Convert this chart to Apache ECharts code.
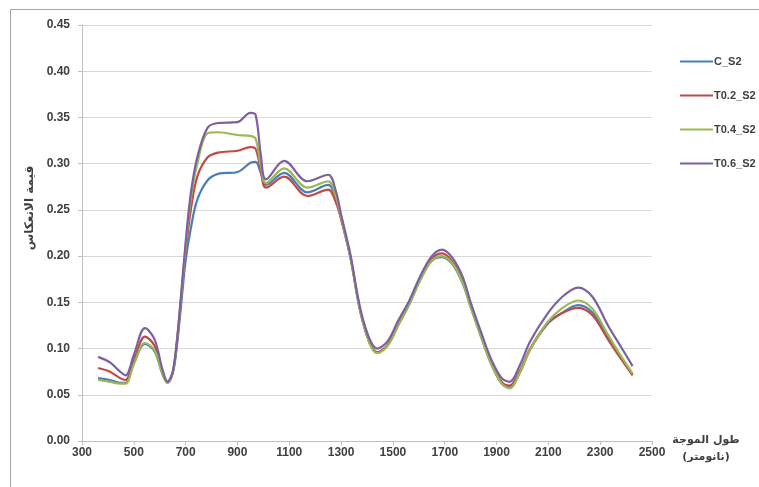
<!DOCTYPE html>
<html>
<head>
<meta charset="utf-8">
<script src="https://cdn.jsdelivr.net/npm/echarts@6/dist/echarts.min.js"></script>
<style>html,body{margin:0;padding:0;background:#fff}#c{width:759px;height:487px}</style>
</head>
<body>
<div id="c"></div>
<script>
var wavelengths = [362, 408, 447, 468, 500, 543, 580, 610, 630, 650, 665, 680, 700, 720, 745, 785, 825, 900, 950, 970, 990, 1010, 1080, 1170, 1250, 1280, 1300, 1335, 1385, 1440, 1480, 1520, 1560, 1605, 1650, 1690, 1730, 1770, 1800, 1840, 1880, 1920, 1950, 1990, 2030, 2095, 2150, 2215, 2270, 2330, 2380, 2425];
var seriesNames = ['C_S2', 'T0.2_S2', 'T0.4_S2', 'T0.6_S2'];
var C_S2 = [0.068, 0.066, 0.063, 0.063, 0.084, 0.105, 0.097, 0.073, 0.063, 0.073, 0.100, 0.140, 0.195, 0.230, 0.261, 0.282, 0.289, 0.291, 0.301, 0.302, 0.290, 0.277, 0.290, 0.269, 0.277, 0.262, 0.241, 0.200, 0.128, 0.096, 0.104, 0.125, 0.146, 0.174, 0.195, 0.199, 0.191, 0.170, 0.145, 0.113, 0.083, 0.062, 0.058, 0.074, 0.099, 0.126, 0.138, 0.147, 0.139, 0.112, 0.090, 0.072];
var T02_S2 = [0.079, 0.075, 0.068, 0.066, 0.087, 0.113, 0.103, 0.075, 0.064, 0.074, 0.103, 0.147, 0.205, 0.250, 0.286, 0.307, 0.312, 0.314, 0.318, 0.316, 0.293, 0.274, 0.286, 0.265, 0.272, 0.258, 0.240, 0.200, 0.128, 0.096, 0.104, 0.126, 0.147, 0.175, 0.197, 0.203, 0.194, 0.173, 0.147, 0.115, 0.085, 0.064, 0.060, 0.076, 0.100, 0.127, 0.138, 0.144, 0.136, 0.110, 0.089, 0.071];
var T04_S2 = [0.066, 0.064, 0.062, 0.062, 0.083, 0.106, 0.098, 0.073, 0.063, 0.074, 0.104, 0.148, 0.210, 0.262, 0.300, 0.333, 0.334, 0.331, 0.330, 0.327, 0.298, 0.279, 0.295, 0.274, 0.281, 0.264, 0.242, 0.200, 0.128, 0.095, 0.103, 0.125, 0.146, 0.174, 0.195, 0.200, 0.192, 0.171, 0.145, 0.113, 0.083, 0.062, 0.057, 0.074, 0.099, 0.128, 0.143, 0.152, 0.143, 0.115, 0.092, 0.073];
var T06_S2 = [0.091, 0.085, 0.075, 0.071, 0.093, 0.122, 0.110, 0.078, 0.064, 0.075, 0.105, 0.150, 0.215, 0.268, 0.307, 0.339, 0.344, 0.345, 0.355, 0.353, 0.310, 0.283, 0.303, 0.281, 0.288, 0.270, 0.245, 0.203, 0.131, 0.100, 0.108, 0.130, 0.150, 0.178, 0.200, 0.207, 0.198, 0.177, 0.150, 0.118, 0.088, 0.068, 0.064, 0.082, 0.108, 0.137, 0.155, 0.166, 0.156, 0.125, 0.102, 0.081];
var xTicks = [300, 500, 700, 900, 1100, 1300, 1500, 1700, 1900, 2100, 2300, 2500];
var yTicks = [0, 0.05, 0.10, 0.15, 0.20, 0.25, 0.30, 0.35, 0.40, 0.45];
var yAxisTitle = 'قيمة الانعكاس';
var xAxisTitle1 = 'طول الموجة';
var xAxisTitle2 = '(نانومتر)';

var colors = ['#4A7EBB', '#BE4B48', '#98B954', '#7D60A0'];
var allValues = [C_S2, T02_S2, T04_S2, T06_S2];

function pairs(vals) {
  return wavelengths.map(function (w, i) { return [w, vals[i]]; });
}

var chart = echarts.init(document.getElementById('c'), null, { renderer: 'canvas' });
var labelFont = { color: '#404040', fontSize: 12, fontWeight: 'bold', fontFamily: 'Liberation Sans, Arial, sans-serif' };

chart.setOption({
  animation: false,
  backgroundColor: '#fff',
  color: colors,
  grid: { left: 82, right: 107, top: 25, bottom: 46, containLabel: false },
  legend: {
    orient: 'vertical',
    left: 675,
    top: 51,
    itemWidth: 33,
    itemHeight: 12,
    itemGap: 23,
    icon: 'path://M0,5 L33,5 L33,7 L0,7 Z',
    data: seriesNames,
    textStyle: { color: '#404040', fontSize: 11, fontWeight: 'bold', fontFamily: 'Liberation Sans, Arial, sans-serif', padding: [0, 0, 0, -4] }
  },
  xAxis: {
    type: 'value',
    min: xTicks[0],
    max: xTicks[xTicks.length - 1],
    interval: xTicks[1] - xTicks[0],
    axisLine: { show: true, lineStyle: { color: '#BFBFBF', width: 1 } },
    axisTick: { show: true, length: 4, lineStyle: { color: '#BFBFBF' } },
    splitLine: { show: false },
    axisLabel: Object.assign({ margin: 6, formatter: function (v) { return String(v); } }, labelFont)
  },
  yAxis: {
    type: 'value',
    min: yTicks[0],
    max: yTicks[yTicks.length - 1],
    interval: 0.05,
    axisLine: { show: true, lineStyle: { color: '#BFBFBF', width: 1 } },
    axisTick: { show: true, length: 4, lineStyle: { color: '#BFBFBF' } },
    splitLine: { show: true, lineStyle: { color: '#D9D9D9', width: 1 } },
    axisLabel: Object.assign({ margin: 12, formatter: function (v) { return v.toFixed(2); } }, labelFont)
  },
  series: seriesNames.map(function (name, i) {
    return {
      name: name,
      type: 'line',
      data: pairs(allValues[i]),
      smooth: 0.35,
      showSymbol: false,
      symbol: 'none',
      lineStyle: { width: 2.2, color: colors[i] },
      z: 2 + i
    };
  }),
  graphic: [
    {
      type: 'rect', left: 8, top: 7, silent: true,
      shape: { width: 800, height: 520 },
      style: { fill: 'none', stroke: '#A6A6A6', lineWidth: 1 }
    },
    {
      type: 'text', x: 30, y: 208, rotation: Math.PI / 2,
      style: { text: yAxisTitle, fill: '#404040', font: 'bold 12px "DejaVu Sans", sans-serif', align: 'center', verticalAlign: 'middle' }
    },
    {
      type: 'text', x: 706, y: 440,
      style: { text: xAxisTitle1, fill: '#404040', font: 'bold 11px "DejaVu Sans", sans-serif', align: 'center', verticalAlign: 'middle' }
    },
    {
      type: 'text', x: 706, y: 457,
      style: { text: xAxisTitle2, fill: '#404040', font: 'bold 11px "DejaVu Sans", sans-serif', align: 'center', verticalAlign: 'middle' }
    }
  ]
});
</script>
</body>
</html>
